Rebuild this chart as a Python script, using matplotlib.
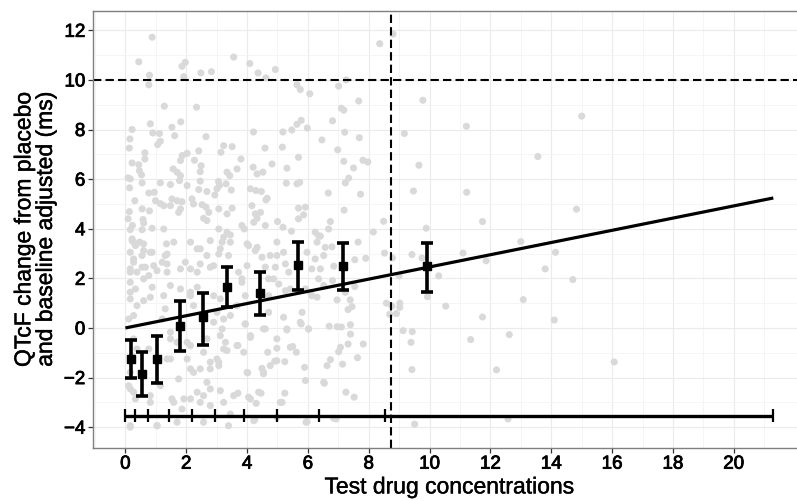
import matplotlib
matplotlib.use("Agg")
import matplotlib.pyplot as plt
import matplotlib.patheffects as pe
import numpy as np

plt.rcParams['font.family'] = ['Liberation Sans', 'DejaVu Sans']

# ---- observed data (concentration, delta-delta QTcF) ----
obs_x = [8.36, 8.80, 7.01, 7.26, 7.67, 7.10, 7.18, 9.78, 15.0, 6.81, 11.21, 9.17, 6.46, 7.21, 7.69,
         6.98, 7.18, 7.81, 7.97, 7.50, 9.65, 13.56, 7.34, 7.23, 6.67, 7.73, 9.47, 11.22, 7.19, 14.83,
         6.74, 6.68, 8.49, 11.74, 9.89, 8.15, 6.41, 6.57, 6.79, 7.65, 13.0, 8.52, 8.78, 9.42, 9.75,
         11.10, 14.14, 7.54, 7.90, 6.85, 11.86, 6.41, 13.80, 10.30, 9.00, 14.71, 6.81, 7.54, 7.23, 9.93,
         6.96, 7.39, 13.08, 7.45, 7.32, 8.58, 9.02, 9.02, 8.76, 10.53, 8.69, 8.91, 11.74, 14.10, 6.70,
         6.96, 7.10, 7.40, 9.13, 9.43, 7.40, 12.62, 11.35, 9.39, 7.32, 7.82, 7.07, 7.01, 7.63, 6.74,
         6.63, 7.14, 9.42, 12.20, 6.54, 7.25, 7.52, 6.85, 6.93, 9.51, 12.58, 16.07,
         0.88, 0.44, 0.79, 0.77, 1.86, 1.97, 1.92, 2.48, 2.83, 3.56, 4.09, 4.36, 4.62, 4.93, 5.64,
         5.75, 6.06, 1.28, 2.34, 0.82, 0.22, 0.15, 0.13, 0.90, 1.12, 1.15, 1.06, 1.53, 1.82, 1.62,
         2.65, 4.21, 3.23, 3.51, 3.14, 4.59, 5.18, 5.47, 5.64, 5.78, 5.98, 5.16, 0.64, 0.64, 0.22,
         0.44, 0.46, 0.53, 0.55, 0.09, 0.16, 0.14, 1.15, 0.77, 0.95, 0.31, 0.55, 0.79, 0.13, 0.09,
         0.58, 0.60, 0.23, 0.16, 0.55, 0.88, 1.26, 0.22, 0.47, 1.35, 1.81, 2.03, 1.87, 2.41, 2.27,
         2.49, 2.46, 1.57, 1.70, 1.81, 1.78, 1.48, 2.03, 2.46, 2.41, 2.68, 3.06, 3.09, 3.01, 2.94,
         3.31, 3.48, 3.34, 3.43, 3.67, 3.80, 4.20, 4.33, 4.52, 4.82, 5.31, 4.11, 4.29, 4.47, 4.66,
         4.62, 5.29, 5.64, 5.73, 5.69, 0.99, 1.15, 1.26, 1.53, 1.48, 1.70, 1.86, 1.75, 1.81, 2.19,
         2.24, 2.52, 2.65, 2.74, 2.57, 2.68, 3.07, 3.34, 3.51, 3.07, 3.23, 3.34, 3.45, 3.83, 3.91,
         4.16, 4.27, 4.44, 4.33, 4.22, 4.60, 5.00, 5.18, 5.46, 5.69, 5.92, 5.86, 5.69, 6.24, 6.35,
         0.27, 0.60, 0.16, 0.88, 1.37, 1.59, 2.14, 2.46, 2.79, 3.12, 3.45, 4.00, 4.33, 4.76, 4.98,
         5.20, 5.97, 6.30, 6.52, 0.27, 0.55, 0.16, 0.77, 1.04, 1.37, 1.97, 2.36, 2.90, 3.83, 4.00,
         4.87, 5.42, 6.08, 6.30, 6.52, 0.16, 0.38, 0.27, 0.82, 1.31, 1.21, 2.14, 2.24, 3.01, 3.45,
         3.67, 3.94, 4.11, 4.54, 4.98, 5.31, 5.42, 5.75, 6.02, 0.27, 0.38, 0.22, 0.77, 1.48, 1.37,
         2.03, 2.14, 2.57, 2.79, 3.07, 3.23, 3.67, 4.00, 4.54, 4.76, 4.98, 5.92, 6.52, 0.16, 0.11,
         0.27, 0.82, 1.15, 1.59, 1.92, 2.36, 2.46, 2.79, 3.23, 3.56, 4.11, 4.38, 5.09, 0.16, 1.04,
         1.70, 2.57, 3.39, 4.22, 4.98, 5.97, 3.45, 4.25, 5.94, 3.12, 3.70, 4.05, 4.30, 4.46, 5.24,
         5.15, 5.89, 4.02, 4.54, 4.49, 4.91, 5.24, 4.68, 4.98, 5.50, 5.62, 3.29, 3.34, 3.70, 3.89,
         4.11, 3.07, 3.12, 3.23, 3.18, 3.94, 4.60, 4.71, 5.20, 5.81, 5.78, 6.02, 5.31, 0.11, 0.16,
         0.33, 0.82, 0.16, 1.04, 1.53, 1.86, 2.14, 2.57, 2.79, 2.68, 2.24, 1.75, 1.48, 2.14, 2.46,
         2.79, 3.01, 1.70, 2.03, 2.68, 2.90, 1.48, 0.22, 0.33, 0.60, 0.82, 0.55, 0.27, 1.31, 0.93,
         0.66, 0.16, 0.38, 1.21, 1.37, 1.81, 2.14, 2.46, 2.79, 2.68, 2.36, 0.60, 0.16, 0.33, 0.88,
         1.48, 1.81, 1.26, 0.16, 0.60, 2.14, 2.36, 2.90, 3.18, 3.07, 3.39, 4.05, 4.27, 4.49, 4.60,
         4.93, 5.26, 5.37, 4.98, 6.24, 6.13, 6.35, 3.72, 3.83, 4.71, 5.04, 5.26, 5.92, 6.13, 4.71,
         3.94, 3.12]
obs_y = [11.46, 11.85, 9.75, 10.0, 9.15, 8.86, 8.78, 9.18, 8.54, 8.35, 8.13, 7.84, 7.58, 7.89, 7.67,
         7.18, 6.72, 6.76, 6.69, 6.45, 6.56, 6.91, 6.04, 5.85, 5.44, 5.39, 5.52, 5.47, 4.75, 4.79,
         4.29, 3.99, 4.30, 4.29, 4.02, 3.87, 3.70, 3.25, 3.27, 3.46, 3.48, 3.02, 2.82, 2.96, 2.82,
         3.02, 3.05, 2.75, 2.81, 2.49, 2.71, 2.38, 2.38, 2.10, 2.10, 1.95, 1.91, 1.67, 1.44, 1.26,
         1.13, 1.13, 1.14, 0.86, 0.74, 1.00, 1.00, 0.83, 0.88, 0.88, 0.55, 0.58, 0.44, 0.32, 0.07,
         0.05, 0.04, 0.13, -0.11, -0.15, -0.25, -0.27, -0.47, -0.58, -0.65, -0.65, -0.78, -0.96, -1.20, -1.28,
         -1.52, -1.46, -1.68, -1.69, -2.23, -2.59, -2.79, -3.64, -3.67, -3.88, -3.67, -1.37,
         11.72, 10.73, 10.19, 9.80, 10.55, 10.71, 10.13, 10.28, 10.33, 10.92, 10.66, 10.28, 10.08, 10.42, 9.80,
         9.61, 9.44, 8.94, 8.90, 8.23, 8.00, 7.62, 7.25, 7.86, 7.84, 7.53, 7.39, 8.09, 8.31, 7.75,
         7.71, 7.90, 7.35, 7.31, 7.08, 7.25, 7.90, 7.98, 8.21, 8.37, 8.06, 7.29, 7.06, 6.81, 6.65,
         6.58, 6.34, 6.17, 5.85, 6.05, 6.01, 5.65, 5.85, 5.44, 5.47, 5.13, 4.80, 4.72, 4.69, 4.40,
         4.37, 4.23, 4.13, 3.96, 3.96, 4.02, 3.99, 3.59, 3.46, 3.39, 6.75, 7.04, 6.95, 7.14, 6.76,
         6.54, 6.30, 6.41, 6.28, 6.14, 5.94, 5.78, 5.74, 5.92, 5.58, 5.50, 5.90, 5.74, 5.61, 5.36,
         5.81, 5.56, 6.28, 6.14, 6.41, 6.81, 6.48, 6.21, 6.28, 6.61, 6.44, 5.61, 5.54, 5.50, 5.23,
         5.16, 5.84, 5.81, 5.87, 6.88, 5.13, 5.01, 4.93, 5.20, 4.93, 5.13, 5.09, 4.66, 4.80, 5.20,
         5.00, 4.97, 4.87, 4.66, 4.42, 4.33, 4.80, 4.60, 4.83, 3.99, 3.66, 3.86, 3.75, 4.13, 3.99,
         4.93, 4.60, 4.66, 4.42, 4.26, 4.13, 4.29, 4.06, 3.90, 4.83, 4.87, 4.56, 4.40, 3.86, 3.72,
         3.46, 3.39, 3.05, 3.05, 2.98, 3.46, 3.46, 3.19, 3.52, 3.19, 3.46, 3.39, 3.25, 2.92, 3.46,
         3.05, 3.05, 3.46, 2.92, 2.65, 2.45, 2.25, 2.11, 2.31, 2.58, 2.65, 2.25, 2.51, 1.98, 2.51,
         1.98, 1.57, 1.44, 1.24, 1.71, 1.44, 0.90, 0.50, 1.24, 0.77, 0.36, 1.44, 0.90, 0.63, 0.50,
         0.90, 0.16, -0.38, -0.04, -0.44, -0.04, -0.78, 0.23, -0.04, -0.44, -0.85, -1.12, -0.85, -0.44, -1.25,
         -1.25, -0.71, -0.98, -1.38, -1.52, -0.85, -0.71, -1.79, -1.79, -1.52, -1.32, -2.12, -2.19, -1.79, -2.33,
         -2.59, -2.73, -2.33, -3.0, -2.86, -2.59, -3.0, -2.46, -3.0, -2.73, -2.86, -2.59, -3.0, -4.0, -3.94,
         -3.80, -3.80, -3.94, -3.74, -3.60, -3.78, -3.47, -3.70, -3.80, -2.53, -2.63, -2.79, -3.04, -2.63, -2.63,
         -3.0, -1.59, -1.81, -1.85, -1.63, -1.34, -1.36, -0.98, -0.82, -0.75, -0.98, -0.58, -0.91, -0.71, -0.98,
         -0.31, -1.38, -0.31, 0.36, -0.04, 0.16, -0.04, 0.63, 0.43, 0.63, 0.16, -0.04, -0.08, 0.36, -2.46,
         -2.86, -3.0, -3.94, -3.94, -2.86, -3.27, -2.86, -2.73, -3.13, -2.19, -1.79, -2.06, -1.25, -1.65, -1.65,
         -1.65, -1.25, -0.58, -0.58, -0.44, 0.23, -0.17, 3.52, 3.32, 3.12, 3.05, 2.92, 2.78, 2.92, 2.51,
         2.45, 2.38, 2.25, 2.65, 2.25, 2.38, 2.38, 2.58, 2.45, 2.92, 3.19, 1.98, 1.84, 1.57, 1.64,
         1.71, 1.57, 1.30, 1.17, 1.10, 1.30, 1.64, 1.30, 3.46, 2.98, 2.92, 3.32, 3.12, 2.85, 2.45,
         2.45, 2.58, 2.25, 2.92, 2.78, 2.38, 1.98, 2.25, 1.84, 1.98, 1.77, 1.50, 1.57, 1.30, 1.30,
         1.30, 1.17]

# ---- binned (decile) means with 90% CI ----
bin_x = [0.20, 0.53, 1.04, 1.79, 2.55, 3.34, 4.41, 5.67, 7.17, 9.91]
bin_mean = [-1.25, -1.85, -1.25, 0.07, 0.43, 1.67, 1.40, 2.54, 2.49, 2.49]
bin_lo = [-2.03, -2.73, -2.22, -0.91, -0.69, 0.83, 0.52, 1.54, 1.54, 1.46]
bin_hi = [-0.48, -0.98, -0.31, 1.08, 1.40, 2.45, 2.27, 3.48, 3.43, 3.43]

# ---- concentration decile boundaries ----
decile_edges = [0, 0.33, 0.74, 1.42, 2.19, 2.96, 3.89, 4.98, 6.35, 8.52, 21.3]
decile_y = -3.54

# ---- model fit ----
fit_intercept = 0.0
fit_slope = 0.246
fit_range = [0, 21.3]

cmax = 8.74
threshold = 10

xticks = list(range(0, 21, 2))
yticks = list(range(-4, 13, 2))

fig = plt.figure(figsize=(7.97, 5.02), dpi=100)
ax = fig.add_axes([93/797, 53/502, (805.7-93)/797, (449-11.7)/502])

ax.set_xlim(-1.065, 22.365)
ax.set_ylim(-4.84, 12.79)
ax.set_xticks(xticks)
ax.set_yticks(yticks)
ax.set_xticks(np.arange(-1, 23, 2), minor=True)
ax.set_yticks(np.arange(-3, 13, 2), minor=True)
ax.grid(True, which='major', color='#ebebeb', lw=0.8, zorder=0)
ax.grid(True, which='minor', color='#f4f4f4', lw=0.6, zorder=0)
ax.tick_params(which='minor', length=0)
ax.tick_params(which='major', length=3.5, width=0.9, color='#333333', labelsize=13.5,
               labelcolor='black', pad=2)
heavy = [pe.withStroke(linewidth=0.6, foreground='black')]
for lab in ax.get_xticklabels() + ax.get_yticklabels():
    lab.set_path_effects(heavy)
ax.set_axisbelow(True)
for s in ax.spines.values():
    s.set_color('#7f7f7f')
    s.set_linewidth(1.0)

ax.scatter(obs_x, obs_y, s=26, color='#d9d9d9', edgecolors='none', zorder=1)

ax.axhline(threshold, color='black', lw=1.5, ls=(0, (4, 2)), zorder=2)
ax.axvline(cmax, color='black', lw=1.5, ls=(0, (4, 2)), zorder=2)

fx = np.array(fit_range)
ax.plot(fx, fit_intercept + fit_slope * fx, color='black', lw=2.3, zorder=3, solid_capstyle='butt')

yerr = [np.array(bin_mean) - np.array(bin_lo), np.array(bin_hi) - np.array(bin_mean)]
ax.errorbar(bin_x, bin_mean, yerr=yerr, fmt='s', color='black', ms=5.5, elinewidth=2.6,
            capsize=4, capthick=2.6, zorder=4)

ax.plot([decile_edges[0], decile_edges[-1]], [decile_y, decile_y], color='black', lw=2.4,
        zorder=4, solid_capstyle='butt')
ax.vlines(decile_edges, decile_y - 0.26, decile_y + 0.26, color='black', lw=1.6, zorder=4)

xl = ax.set_xlabel('Test drug concentrations', fontsize=16.5, labelpad=2)
yl = ax.set_ylabel('QTcF change from placebo\nand baseline adjusted (ms)', fontsize=16.5,
                   labelpad=5, linespacing=0.92)
for t in (xl, yl):
    t.set_path_effects([pe.withStroke(linewidth=0.3, foreground='black')])

fig.savefig('out.png', dpi=100)
